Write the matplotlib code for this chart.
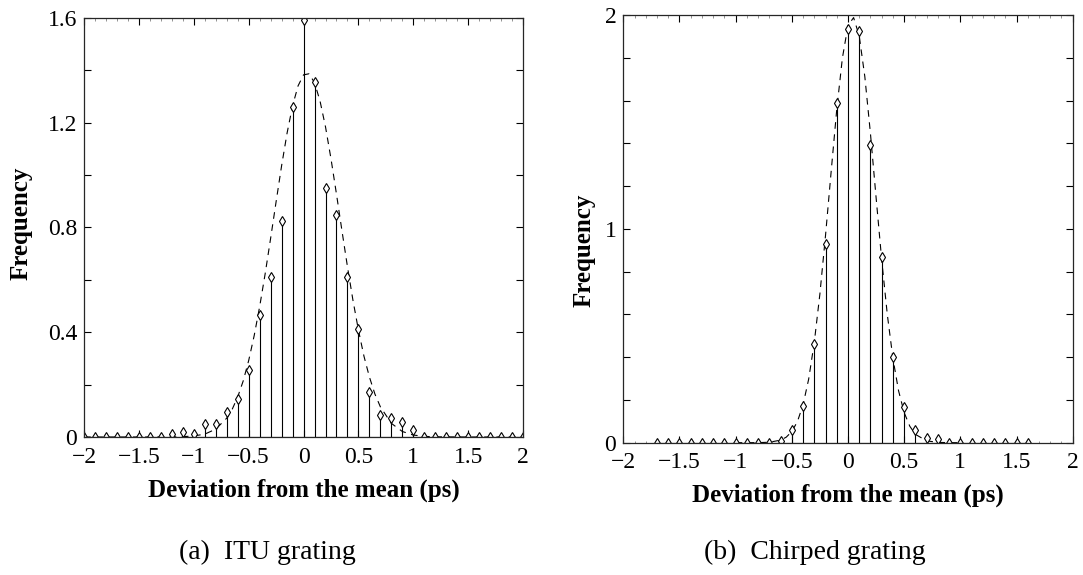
"""Two stem histograms of arrival-time deviation with a Gaussian fit (ITU vs chirped grating)."""
import matplotlib
matplotlib.use("Agg")
import matplotlib.pyplot as plt
import numpy as np

# ---- data ------------------------------------------------------------------
itu_x = np.round(np.arange(-20, 21) * 0.1, 1)
itu_freq = [0, 0, 0, 0, 0, 0, 0, 0,
            0.010, 0.018, 0.011, 0.048, 0.048, 0.095, 0.145, 0.256, 0.466,
            0.612, 0.826, 1.261, 1.594, 1.355, 0.952, 0.846, 0.612, 0.411,
            0.173, 0.084, 0.071, 0.056, 0.027,
            0, 0, 0, 0, 0, 0, 0, 0, 0, 0]

itu_fit_x = [-2.0, -1.5, -1.2, -1.1, -1.0, -0.9, -0.8, -0.7,
             -0.65, -0.6, -0.55, -0.5, -0.45, -0.4, -0.35, -0.3, -0.25, -0.2,
             -0.15, -0.1, -0.05, 0.0, 0.05, 0.1, 0.15, 0.2, 0.25, 0.3, 0.35,
             0.4, 0.45, 0.5, 0.55, 0.6, 0.65,
             0.7, 0.8, 0.9, 1.0, 1.1, 1.2, 1.5, 2.0]
itu_fit_y = [0.0, 0.0, 0.0003, 0.0012, 0.004, 0.011, 0.030, 0.072,
             0.106, 0.153, 0.214, 0.292, 0.387, 0.498, 0.623, 0.759, 0.899,
             1.036, 1.161, 1.265, 1.341, 1.383, 1.387, 1.353, 1.283, 1.184,
             1.062, 0.927, 0.787, 0.650, 0.522, 0.408, 0.309, 0.229, 0.164,
             0.115, 0.052, 0.021, 0.0075, 0.0024, 0.0007, 0.0, 0.0]

chirp_x = np.round(np.arange(-17, 17) * 0.1, 1)
chirp_freq = [0, 0, 0, 0, 0, 0, 0, 0, 0, 0, 0,
              0.009, 0.059, 0.172, 0.462, 0.928, 1.590, 1.934, 1.924, 1.394,
              0.870, 0.399, 0.168, 0.059, 0.024, 0.016,
              0, 0, 0, 0, 0, 0, 0, 0]

chirp_fit_x = [-1.0, -0.9, -0.8, -0.7, -0.6,
               -0.55, -0.5, -0.45, -0.4, -0.35, -0.3, -0.25, -0.2, -0.15,
               -0.1, -0.05, 0.0, 0.05, 0.1, 0.15, 0.2, 0.25, 0.3, 0.35, 0.4,
               0.45, 0.5, 0.55,
               0.6, 0.7, 0.8, 0.9, 1.0]
chirp_fit_y = [0.0, 0.0, 0.0003, 0.0021, 0.0119,
               0.0257, 0.052, 0.099, 0.177, 0.297, 0.469, 0.696, 0.969, 1.267,
               1.558, 1.798, 1.951, 1.988, 1.902, 1.711, 1.445, 1.147, 0.855,
               0.599, 0.394, 0.243, 0.141, 0.077,
               0.039, 0.0086, 0.0015, 0.0002, 0.0]

x_ticks = [-2, -1.5, -1, -0.5, 0, 0.5, 1, 1.5, 2]
x_labels = ["\u22122", "\u22121.5", "\u22121", "\u22120.5", "0", "0.5", "1", "1.5", "2"]
itu_y_labels = {0.0: "0", 0.4: "0.4", 0.8: "0.8", 1.2: "1.2", 1.6: "1.6"}
chirp_y_labels = {0.0: "0", 1.0: "1", 2.0: "2"}

XLABEL = "Deviation from the mean (ps)"
YLABEL = "Frequency"


def apply_style():
    plt.rcParams.update({
        "font.family": ["Liberation Serif", "DejaVu Serif"],
        "font.size": 17,
        "axes.linewidth": 0.9,
        "axes.edgecolor": "0.15",
        "xtick.direction": "in",
        "ytick.direction": "in",
        "xtick.top": True,
        "ytick.right": True,
        "xtick.major.size": 5,
        "ytick.major.size": 5,
        "xtick.minor.size": 1.8,
        "ytick.minor.size": 1.8,
        "xtick.major.width": 0.8,
        "ytick.major.width": 0.8,
        "xtick.labelsize": 17,
        "ytick.labelsize": 17,
    })


def draw_panel(ax, x, freq, fit_x, fit_y, ymax, ylabels, ylabel_x, ylabel_y):
    markerline, stemlines, baseline = ax.stem(x, freq, linefmt="k-", markerfmt="kd", basefmt="k-")
    markerline.set_markerfacecolor("white")
    markerline.set_markersize(5.5)
    markerline.set_markeredgewidth(0.8)
    stemlines.set_linewidth(0.8)
    baseline.set_linewidth(0.8)
    ax.plot(fit_x, fit_y, color="k", lw=0.8, linestyle=(0, (6, 5)), zorder=1)

    ax.set_xlim(-2, 2)
    ax.set_ylim(0, ymax)
    ax.set_xticks(x_ticks)
    ax.set_xticklabels(x_labels)
    yt = np.round(np.arange(0, ymax + 0.001, 0.2), 1)
    ax.set_yticks(yt)
    ax.set_yticklabels([ylabels.get(float(v), "") for v in yt])
    ax.set_xticks(np.round(np.arange(-20, 21) * 0.1, 1), minor=True)
    ax.tick_params(which="minor", color="0.4", width=0.5)
    ax.tick_params(axis="x", pad=7)
    ax.tick_params(axis="y", pad=5)

    ax.set_xlabel(XLABEL, fontweight="bold", fontsize=18, labelpad=7.5)
    ax.set_ylabel(YLABEL, fontweight="bold", fontsize=18)
    ax.yaxis.set_label_coords(ylabel_x, ylabel_y)


def main():
    apply_style()
    fig = plt.figure(figsize=(10.83, 5.75), dpi=100)
    ax1 = fig.add_axes([0.0776, 0.2400, 0.4054, 0.7287])
    ax2 = fig.add_axes([0.5755, 0.2301, 0.4150, 0.7438])

    draw_panel(ax1, itu_x, itu_freq, itu_fit_x, itu_fit_y, 1.6, itu_y_labels, -0.118, 0.51)
    draw_panel(ax2, chirp_x, chirp_freq, chirp_fit_x, chirp_fit_y, 2.0, chirp_y_labels, -0.062, 0.45)

    fig.text(0.247, 0.040, "(a)  ITU grating", ha="center", va="center", fontsize=20)
    fig.text(0.752, 0.040, "(b)  Chirped grating", ha="center", va="center", fontsize=20)

    fig.savefig("out.png", dpi=100)
    plt.close(fig)


if __name__ == "__main__":
    main()
